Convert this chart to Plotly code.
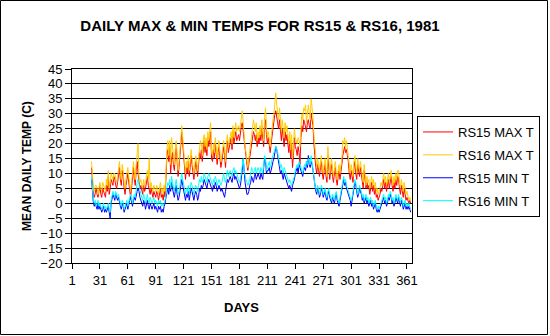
import plotly.graph_objects as go

# Daily temperatures, 1981 (records run from day 22 to day 365)
FIRST_DAY = 22
LAST_DAY = 365
days = list(range(FIRST_DAY, LAST_DAY + 1))

rs15_max = [
    12, 5, 3, 2, 4, 5, 3, 2, 4, 6,
    3, 2, 5, 4, 3, 2, 6, 4, 9, 3,
    5, 8, 7, 6, 9, 8, 6, 5, 7, 9,
    12, 8, 6, 11, 9, 5, 3, 6, 8, 10,
    7, 4, 2, 5, 9, 12, 8, 6, 11, 14,
    10, 7, 5, 6, 4, 3, 6, 4, 5, 7,
    9, 6, 4, 3, 5, 3, 2, 4, 3, 2,
    4, 3, 1, 3, 5, 2, 3, 1, 4, 2,
    12, 16, 18, 14, 19, 10, 15, 17, 13, 11,
    16, 20, 14, 9, 12, 17, 22, 24, 20, 15,
    11, 8, 12, 10, 14, 9, 12, 16, 13, 10,
    8, 11, 14, 12, 9, 13, 17, 15, 18, 14,
    19, 21, 17, 20, 16, 22, 19, 23, 24, 15,
    14, 18, 15, 20, 16, 13, 17, 19, 15, 12,
    14, 17, 19, 16, 12, 18, 21, 17, 19, 20,
    22, 18, 24, 20, 23, 24, 21, 22, 23, 21,
    24, 26, 27, 24, 20, 17, 15, 13, 11, 13,
    16, 18, 20, 22, 24, 23, 21, 23, 19, 22,
    20, 23, 21, 25, 22, 19, 26, 28, 23, 20,
    22, 19, 17, 20, 23, 25, 27, 30, 31, 29,
    27, 25, 28, 23, 21, 25, 22, 19, 24, 21,
    23, 19, 17, 21, 15, 20, 12, 16, 22, 19,
    18, 16, 19, 17, 13, 22, 26, 24, 28, 27,
    25, 24, 27, 28, 26, 25, 30, 28, 26, 20,
    15, 12, 10, 13, 11, 9, 12, 14, 10, 8,
    11, 13, 9, 7, 16, 12, 8, 11, 13, 9,
    7, 10, 12, 8, 6, 9, 11, 8, 10, 13,
    16, 18, 19, 17, 18, 16, 14, 10, 8, 11,
    9, 7, 12, 14, 10, 8, 13, 11, 9, 12,
    10, 7, 5, 11, 8, 5, 7, 5, 6, 3,
    5, 7, 4, 6, 3, 5, 2, 3, 1, 2,
    3, 5, 4, 6, 8, 5, 7, 4, 6, 8,
    5, 7, 9, 6, 4, 7, 5, 8, 6, 9,
    8, 5, 3, 6, 4, 2, 5, 3, 1, 2,
    1, 0, 1, 0,
]

rs16_max = [
    14, 7, 5, 4, 6, 6, 5, 3, 6, 7,
    5, 4, 7, 6, 5, 4, 8, 6, 11, 5,
    7, 10, 9, 8, 10, 10, 8, 7, 9, 11,
    14, 10, 8, 13, 11, 7, 5, 8, 10, 12,
    9, 6, 4, 7, 11, 14, 10, 8, 13, 17,
    20, 9, 7, 8, 6, 5, 8, 6, 7, 9,
    11, 8, 15, 5, 7, 5, 4, 6, 5, 4,
    6, 5, 3, 5, 7, 4, 5, 3, 6, 4,
    14, 18, 21, 16, 21, 13, 22, 19, 15, 13,
    18, 21, 16, 11, 14, 19, 23, 26, 22, 17,
    13, 10, 14, 12, 16, 11, 14, 18, 15, 12,
    10, 13, 16, 14, 11, 15, 19, 21, 20, 16,
    21, 23, 19, 22, 18, 24, 21, 25, 27, 17,
    16, 20, 17, 22, 18, 15, 19, 21, 17, 14,
    16, 19, 21, 18, 14, 20, 23, 19, 21, 22,
    24, 20, 26, 22, 25, 27, 24, 25, 26, 24,
    27, 29, 31, 27, 22, 19, 17, 14, 12, 15,
    18, 20, 22, 25, 28, 26, 24, 27, 21, 24,
    22, 26, 23, 28, 24, 21, 29, 32, 26, 22,
    24, 21, 19, 22, 26, 28, 30, 35, 37, 33,
    31, 28, 32, 26, 24, 28, 25, 22, 27, 24,
    26, 22, 20, 24, 18, 23, 15, 19, 25, 22,
    21, 20, 22, 21, 19, 26, 30, 28, 32, 31,
    33, 27, 32, 33, 30, 28, 35, 32, 29, 23,
    18, 14, 12, 15, 13, 11, 14, 16, 12, 10,
    13, 15, 11, 9, 19, 14, 10, 13, 15, 11,
    9, 12, 14, 10, 8, 11, 13, 10, 12, 15,
    21, 20, 22, 19, 21, 18, 16, 12, 10, 13,
    11, 9, 14, 16, 12, 10, 15, 13, 11, 14,
    12, 9, 7, 13, 8, 6, 9, 7, 8, 5,
    7, 9, 6, 8, 5, 7, 4, 5, 3, 4,
    5, 7, 6, 8, 10, 7, 9, 6, 8, 10,
    7, 9, 11, 8, 6, 9, 7, 10, 8, 11,
    11, 7, 5, 8, 6, 4, 7, 5, 3, 4,
    2, 1, 2, 1,
]

rs15_min = [
    8, 2, 0, -1, 0, -1, -2, 0, -2, -1,
    -2, -3, -2, -1, -3, -2, -3, -2, -1, -3,
    -5, 0, 2, 3, 2, 1, 3, 2, 1, 2,
    0, -1, -2, 0, -1, -3, -2, -1, 0, -2,
    0, 1, 2, 0, -1, 1, 2, 1, 3, 4,
    5, 4, 2, 1, 0, -1, 1, 0, -2, 0,
    1, -1, -2, 0, -1, -2, -1, 0, -2, -1,
    -2, -3, -1, -2, -1, -3, -2, -3, -1, 0,
    2, 4, 5, 3, 6, 4, 7, 5, 3, 2,
    4, 6, 3, 1, 2, 4, 7, 8, 6, 4,
    2, 1, 3, 2, 4, 1, 3, 5, 4, 2,
    1, 3, 4, 3, 1, 2, 5, 4, 6, 5,
    6, 8, 7, 6, 5, 7, 8, 7, 6, 5,
    4, 6, 5, 7, 6, 4, 5, 6, 5, 4,
    5, 4, 3, 2, 4, 6, 8, 7, 8, 9,
    8, 7, 9, 10, 8, 9, 8, 7, 6, 5,
    6, 8, 11, 15, 10, 7, 5, 3, 3, 4,
    6, 7, 9, 8, 7, 9, 10, 8, 9, 10,
    9, 8, 10, 9, 8, 12, 15, 14, 10, 11,
    11, 12, 10, 11, 13, 14, 15, 17, 19, 18,
    16, 14, 12, 10, 11, 9, 8, 10, 9, 8,
    7, 6, 5, 6, 5, 4, 6, 7, 8, 10,
    11, 12, 10, 13, 12, 11, 10, 9, 11, 12,
    11, 14, 12, 16, 13, 12, 14, 13, 11, 8,
    5, 4, 3, 5, 4, 2, 3, 5, 4, 2,
    3, 4, 2, 1, 3, 4, 2, 1, 0, 2,
    1, 0, 2, 3, 1, 0, -1, 1, 3, 5,
    7, 8, 6, 7, 5, 4, 3, 2, 1, -1,
    1, 3, 5, 7, 6, 4, 2, 3, 5, 4,
    3, 1, 2, 0, 1, 2, 0, 1, -1, 0,
    1, -1, 0, -2, -1, 0, -2, -3, -2, -3,
    -2, -1, 0, 1, 2, 0, 1, -1, 0, 2,
    1, 3, 2, 0, 1, -1, 0, 2, 1, 0,
    2, 0, -1, 1, 0, -2, -1, 0, -2, -1,
    -2, -1, -2, -3,
]

rs16_min = [
    9, 3, 1, 0, 1, -1, 0, 1, -1, 0,
    -1, -2, -1, 0, -2, -1, -2, -1, 0, -2,
    -3, 1, 3, 4, 3, 2, 4, 3, 2, 3,
    1, 0, -1, 1, 0, -2, -1, 0, 1, -1,
    1, 2, 3, 1, 0, 2, 3, 2, 5, 7,
    8, 6, 4, 3, 2, 1, 3, 2, 0, 2,
    3, 1, 0, 2, 1, 0, 1, 2, 0, 1,
    0, -1, 1, 0, 1, -1, 0, -1, 0, 1,
    3, 5, 7, 6, 8, 5, 9, 7, 5, 4,
    6, 8, 5, 3, 4, 6, 9, 10, 8, 6,
    4, 3, 5, 4, 6, 3, 5, 7, 6, 4,
    3, 5, 6, 5, 4, 6, 8, 7, 9, 7,
    8, 10, 9, 8, 7, 9, 10, 9, 8, 7,
    6, 8, 7, 9, 8, 6, 7, 8, 7, 6,
    7, 9, 10, 8, 7, 9, 11, 9, 10, 11,
    10, 9, 11, 12, 10, 11, 10, 9, 8, 7,
    8, 10, 12, 15, 11, 9, 8, 7, 6, 7,
    8, 10, 12, 11, 10, 11, 12, 10, 11, 12,
    11, 10, 12, 11, 10, 13, 16, 15, 11, 12,
    13, 14, 12, 13, 15, 16, 17, 18, 19, 18,
    17, 15, 14, 12, 13, 11, 10, 12, 11, 10,
    9, 8, 7, 8, 7, 6, 7, 8, 9, 11,
    12, 13, 12, 14, 13, 12, 11, 10, 12, 13,
    12, 14, 13, 15, 14, 13, 16, 14, 12, 9,
    6, 5, 4, 6, 5, 3, 4, 6, 5, 3,
    4, 5, 3, 2, 4, 5, 3, 2, 1, 3,
    2, 1, 3, 4, 2, 1, 0, 2, 4, 6,
    8, 9, 7, 8, 6, 5, 4, 3, 2, 1,
    2, 4, 6, 8, 7, 5, 3, 4, 6, 5,
    4, 2, 3, 1, 2, 3, 1, 2, 0, 1,
    2, 0, 1, -1, 0, 1, -1, -2, -1, -2,
    -1, 0, 1, 2, 3, 1, 2, 0, 1, 3,
    2, 4, 3, 1, 2, 0, 1, 3, 2, 1,
    3, 1, 0, 2, 1, -1, 0, 1, -1, 0,
    -1, 0, -1, -2,
]

series_names = ["RS15 MAX T", "RS16 MAX T", "RS15 MIN T", "RS16 MIN T"]
series_values = [rs15_max, rs16_max, rs15_min, rs16_min]
series_colors = ["#FF0000", "#FFCC00", "#0000FF", "#00FFFF"]

x_ticks = [1, 31, 61, 91, 121, 151, 181, 211, 241, 271, 301, 331, 361]
y_ticks = list(range(-20, 50, 5))

FONT = "Arial, 'Liberation Sans', sans-serif"

fig = go.Figure()
for name, vals, color in zip(series_names, series_values, series_colors):
    fig.add_trace(go.Scatter(
        x=days, y=vals, name=name, mode="lines",
        line=dict(color=color, width=1),
        legendgroup=name,
    ))

# plot area spans x 72..412, y 69..263 px
L, R, T, B = 72, 138, 69, 73
W, H = 550, 336
pw, ph = W - L - R, H - T - B

def px_x(px):
    return (px - L) / pw

def px_y(py):
    return (H - B - py) / ph

fig.update_layout(
    width=W, height=H,
    margin=dict(l=L, r=R, t=T, b=B, pad=0, autoexpand=False),
    paper_bgcolor="white", plot_bgcolor="white",
    font=dict(family=FONT, size=13, color="black"),
    title=dict(
        text="DAILY MAX & MIN TEMPS FOR RS15 & RS16, 1981",
        x=260 / W, xref="container", xanchor="center",
        y=1 - 26 / H, yref="container", yanchor="middle",
        font=dict(family=FONT, size=15, color="black", weight="bold"),
    ),
    xaxis=dict(
        range=[1, 366.4], tickvals=x_ticks, ticktext=[str(v) for v in x_ticks],
        showgrid=False, zeroline=False,
        showline=True, linecolor="black", linewidth=1, mirror=True,
        ticks="outside", ticklen=5, tickcolor="black", tickwidth=1,
        tickfont=dict(family=FONT, size=13, color="black"),
    ),
    yaxis=dict(
        range=[-20, 45], tickvals=y_ticks,
        showgrid=True, gridcolor="black", gridwidth=1,
        zeroline=False,
        showline=True, linecolor="black", linewidth=1, mirror=True,
        ticks="outside", ticklen=6, tickcolor="black", tickwidth=1,
        tickfont=dict(family=FONT, size=13, color="black"),
    ),
    legend=dict(
        xref="container", yref="container",
        x=417 / W, y=1 - 116 / H, xanchor="left", yanchor="top",
        bgcolor="white", bordercolor="black", borderwidth=1,
        font=dict(family=FONT, size=13, color="black"),
        tracegroupgap=3, traceorder="grouped",
    ),
    showlegend=True,
    annotations=[
        dict(text="<b>MEAN DAILY TEMP (C)</b>", textangle=-90,
             x=px_x(27), y=px_y(166), xref="paper", yref="paper",
             xanchor="center", yanchor="middle", showarrow=False,
             font=dict(family=FONT, size=12, color="black")),
        dict(text="<b>DAYS</b>",
             x=px_x(241), y=px_y(307), xref="paper", yref="paper",
             xanchor="center", yanchor="middle", showarrow=False,
             font=dict(family=FONT, size=13, color="black")),
    ],
    shapes=[
        dict(type="rect", xref="paper", yref="paper",
             x0=px_x(0.5), x1=px_x(547.5), y0=px_y(334.5), y1=px_y(0.5),
             line=dict(color="black", width=1), fillcolor="rgba(0,0,0,0)",
             layer="above"),
    ],
)

fig.write_html("out.html")
